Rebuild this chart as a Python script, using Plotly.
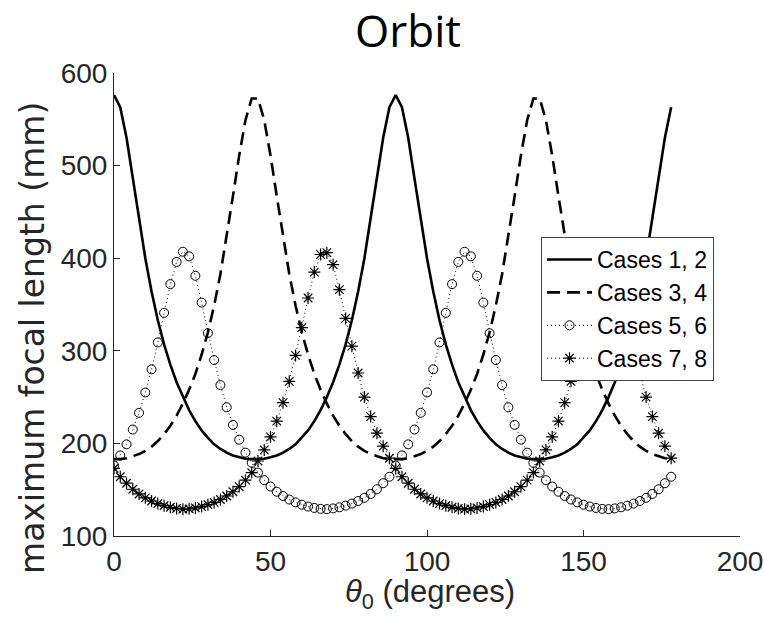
import plotly.graph_objects as go

theta = list(range(0, 180, 2))

cases_1_2 = [576, 563, 530, 486, 442, 400, 364, 333, 307, 285, 266, 250, 236, 224, 214, 206, 199, 194, 190, 187, 185, 183.5, 183,
             183, 183.5, 185, 187, 190, 194, 199, 206, 214, 224, 236, 250, 266, 285, 307, 333, 364, 400, 442, 486, 530, 563,
             576, 563, 530, 486, 442, 400, 364, 333, 307, 285, 266, 250, 236, 224, 214, 206, 199, 194, 190, 187, 185, 183.5, 183,
             183, 183.5, 185, 187, 190, 194, 199, 206, 214, 224, 236, 250, 266, 285, 307, 333, 364, 400, 442, 486, 530, 563]

cases_3_4 = [183, 183, 184, 186, 188.5, 192, 196.5, 202.5, 210, 219, 230, 243, 258, 275, 296, 320, 349, 383, 423, 467, 511, 549, 572.5,
             572.5, 549, 511, 467, 423, 383, 349, 320, 296, 275, 258, 243, 230, 219, 210, 202.5, 196.5, 192, 188.5, 186, 184, 183,
             183, 183, 184, 186, 188.5, 192, 196.5, 202.5, 210, 219, 230, 243, 258, 275, 296, 320, 349, 383, 423, 467, 511, 549, 572.5,
             572.5, 549, 511, 467, 423, 383, 349, 320, 296, 275, 258, 243, 230, 219, 210, 202.5, 196.5, 192, 188.5, 186, 184, 183]

cases_5_6 = [176, 187, 199, 215, 233, 255, 280, 309, 341, 372, 396, 407, 402, 381, 352, 319, 290, 263, 239, 220, 204, 190, 179,
             168.5, 160.3, 153.4, 147.8, 143.2, 139.4, 136.3, 133.8, 131.8, 130.3, 129.3, 129, 129.8, 131, 132.8, 135, 137.8, 141.2, 145.4, 150.5, 157, 164,
             176, 187, 199, 215, 233, 255, 280, 309, 341, 372, 396, 407, 402, 381, 352, 319, 290, 263, 239, 220, 204, 190, 179,
             168.5, 160.3, 153.4, 147.8, 143.2, 139.4, 136.3, 133.8, 131.8, 130.3, 129.3, 129, 129.8, 131, 132.8, 135, 137.8, 141.2, 145.4, 150.5, 157, 164]

cases_7_8 = [173, 164, 157, 150.5, 145.4, 141.2, 137.8, 135, 132.8, 131, 129.8, 129, 129.3, 130.3, 131.8, 133.8, 136.3, 139.4, 143.2, 147.8, 153.4, 160.3, 168.5,
             181, 193, 207, 224, 244, 267, 295, 325, 357, 385, 404, 406, 393, 366, 335, 305, 276, 250, 229, 211, 197, 184,
             173, 164, 157, 150.5, 145.4, 141.2, 137.8, 135, 132.8, 131, 129.8, 129, 129.3, 130.3, 131.8, 133.8, 136.3, 139.4, 143.2, 147.8, 153.4, 160.3, 168.5,
             181, 193, 207, 224, 244, 267, 295, 325, 357, 385, 404, 406, 393, 366, 335, 305, 276, 250, 229, 211, 197, 184]

series_names = ["Cases 1, 2", "Cases 3, 4", "Cases 5, 6", "Cases 7, 8"]
x_ticks = [0, 50, 100, 150, 200]
y_ticks = [100, 200, 300, 400, 500, 600]
x_title = "<i>θ</i><sub>0</sub> (degrees)"
y_title = "maximum focal length (mm)"

W, H = 764, 633
L, R, T, B = 114, 24, 73, 97
AX = "#262626"
FONT = "Liberation Sans, Arial, sans-serif"

fig = go.Figure()
fig.add_trace(go.Scatter(x=theta, y=cases_1_2, name=series_names[0], mode="lines",
                         line=dict(color="black", width=2.6)))
fig.add_trace(go.Scatter(x=theta, y=cases_3_4, name=series_names[1], mode="lines",
                         line=dict(color="black", width=2.6, dash="13px,7px")))
fig.add_trace(go.Scatter(x=theta, y=cases_5_6, name=series_names[2], mode="lines+markers",
                         line=dict(color="black", width=1, dash="1px,3px"),
                         marker=dict(symbol="circle-open", size=9, color="black", line=dict(width=1, color="black"))))
fig.add_trace(go.Scatter(x=theta, y=cases_7_8, name=series_names[3], mode="lines+markers",
                         line=dict(color="black", width=1, dash="1px,3px"),
                         marker=dict(symbol="asterisk-open", size=10, color="black", line=dict(width=1.2, color="black"))))

pw, ph = W - L - R, H - T - B

fig.update_layout(
    width=W, height=H,
    margin=dict(l=L, r=R, t=T, b=B, autoexpand=False),
    plot_bgcolor="white", paper_bgcolor="white",
    font=dict(family=FONT, color=AX),
    title=dict(text="Orbit", x=408 / W, xref="container", xanchor="center",
               y=1 - 32 / H, yref="container", yanchor="middle",
               font=dict(family="Open Sans, Noto Sans, sans-serif", size=44, color="black")),
    showlegend=True,
    legend=dict(x=(541 - L) / pw, y=(H - B - 237) / ph, xanchor="left", yanchor="top",
                bgcolor="white", bordercolor="#444444", borderwidth=1,
                font=dict(family=FONT, size=23, color="black"),
                itemwidth=45, tracegroupgap=0),
    annotations=[
        dict(text=x_title, xref="paper", yref="paper",
             x=(430 - L) / pw, y=(H - B - 594) / ph, xanchor="center", yanchor="middle",
             showarrow=False, font=dict(family=FONT, size=31, color=AX)),
        dict(text=y_title, xref="paper", yref="paper", textangle=-90,
             x=(33 - L) / pw, y=(H - B - 338) / ph, xanchor="center", yanchor="middle",
             showarrow=False, font=dict(family="DejaVu Sans, sans-serif", size=33, color=AX)),
    ],
)
fig.update_xaxes(range=[0, 200], tickvals=x_ticks, ticks="inside", ticklen=6, tickcolor=AX,
                 showline=True, linecolor=AX, linewidth=1, showgrid=False, zeroline=False,
                 automargin=False,
                 tickfont=dict(family=FONT, size=28, color=AX))
fig.update_yaxes(range=[100, 600], tickvals=y_ticks, ticks="inside", ticklen=6, tickcolor=AX,
                 showline=True, linecolor=AX, linewidth=1, showgrid=False, zeroline=False,
                 automargin=False,
                 tickfont=dict(family=FONT, size=28, color=AX))

fig.write_html("out.html", config={"displayModeBar": False},
               post_script="document.body.style.margin='0';")
